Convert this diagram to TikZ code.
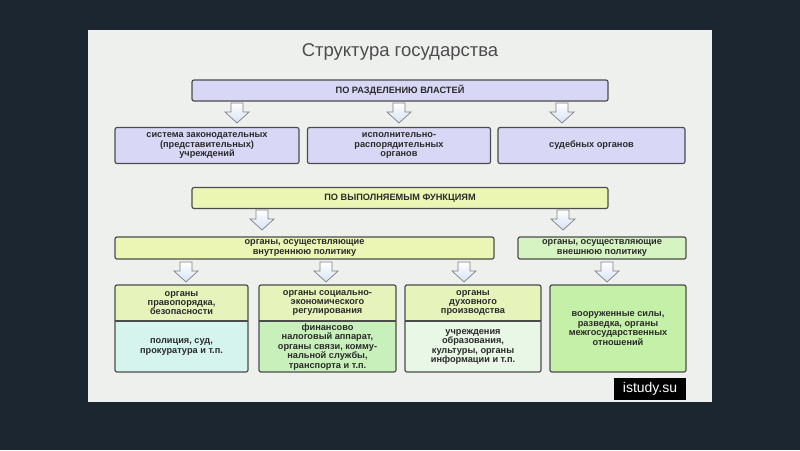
\documentclass[tikz,border=0pt]{standalone}
\usepackage{fontspec}
\setmainfont{Liberation Sans}
\usetikzlibrary{positioning}
\definecolor{bgdark}{HTML}{1C2630}
\definecolor{panel}{HTML}{EEF0EE}
\definecolor{lav}{HTML}{D8D8F6}
\definecolor{ylw}{HTML}{ECF6B4}
\definecolor{hdr}{HTML}{E6F4BC}
\definecolor{cyanl}{HTML}{D6F4EE}
\definecolor{grn}{HTML}{C8F0BA}
\definecolor{pale}{HTML}{E8F7E6}
\definecolor{grn2}{HTML}{C4F0A8}
\definecolor{arrblue}{HTML}{D4E2F6}
\definecolor{txt}{HTML}{2A2A2A}
\tikzset{
 x=1pt,y=-1pt,
 boxa/.style={draw=black!70,line width=1.2pt,rounded corners=2pt,font=\bfseries\fontsize{9.2}{9.4}\selectfont,text=txt,align=center,inner sep=0pt},
 pics/barrow/.style={code={\draw[draw=black!50,line width=0.7pt,top color=white,bottom color=arrblue]
   (-6,0)--(6,0)--(6,9)--(12,9)--(0,20)--(-12,9)--(-6,9)--cycle;}}
}
\begin{document}
\begin{tikzpicture}
\useasboundingbox (0,0) rectangle (800,450);
\fill[bgdark] (0,0) rectangle (800,450);
\fill[panel] (88,30) rectangle (712,402);
\node[text=black!70,font=\fontsize{18.5}{20}\selectfont] (title) at (400,52) {Структура государства};
% top 1
\node[boxa,fill=lav,minimum width=416,minimum height=21] (t1) at (400,90.5) {ПО РАЗДЕЛЕНИЮ ВЛАСТЕЙ};
\foreach \x in {237,399,562} \pic at (\x,103) {barrow};
\node[boxa,fill=lav,minimum width=184,minimum height=36] (b1) at (207,145.5) {система законодательных\\(представительных)\\учреждений};
\node[boxa,fill=lav,minimum width=183,minimum height=36] (b2) at (399,145.5) {исполнительно-\\распорядительных\\органов};
\node[boxa,fill=lav,minimum width=187,minimum height=36] (b3) at (591.5,145.5) {судебных органов};
% top 2
\node[boxa,fill=ylw,minimum width=416,minimum height=21] (t2) at (400,198) {ПО ВЫПОЛНЯЕМЫМ ФУНКЦИЯМ};
\foreach \x in {262,563} \pic at (\x,210) {barrow};
\node[boxa,fill=ylw,minimum width=379,minimum height=22] (f1) at (304.5,248) {органы, осуществляющие\\внутреннюю политику};
\node[boxa,fill=grn2!70,minimum width=168,minimum height=22] (f2) at (602,248) {органы, осуществляющие\\внешнюю политику};
\foreach \x in {186,326,464,607} \pic at (\x,262) {barrow};
% bottom boxes
\foreach \n/\xa/\xb/\c/\h/\b in {
 p1/115/248/cyanl/{органы\\правопорядка,\\безопасности}/{полиция, суд,\\прокуратура и т.п.},
 p2/259/396/grn/{органы социально-\\экономического\\регулирования}/{финансово\\налоговый аппарат,\\органы связи, комму-\\нальной службы,\\транспорта и т.п.},
 p3/405/541/pale/{органы\\духовного\\производства}/{учреждения\\образования,\\культуры, органы\\информации и т.п.}}{
  \fill[\c,rounded corners=2pt] (\xa,285) rectangle (\xb,372);
  \fill[hdr,rounded corners=2pt] (\xa,285) rectangle (\xb,321);
  \fill[hdr] (\xa,300) rectangle (\xb,321);
  \draw[black!70,line width=1.2pt] (\xa,321)--(\xb,321);
  \draw[black!70,line width=1.2pt,rounded corners=2pt] (\xa,285) rectangle (\xb,372);
  \node[boxa,draw=none] (\n h) at ({(\xa+\xb)/2},303) {\h};
  \node[boxa,draw=none] (\n b) at ({(\xa+\xb)/2},347) {\b};
}
\node[boxa,fill=grn2,minimum width=136,minimum height=87] (p4) at (618,328.5) {вооруженные силы,\\разведка, органы\\межгосударственных\\отношений};
\node[fill=black,text=white,font=\fontsize{14}{16}\selectfont,minimum width=72,minimum height=22,inner sep=0pt] (logo) at (650,389) {istudy.su};
\end{tikzpicture}
\end{document}
